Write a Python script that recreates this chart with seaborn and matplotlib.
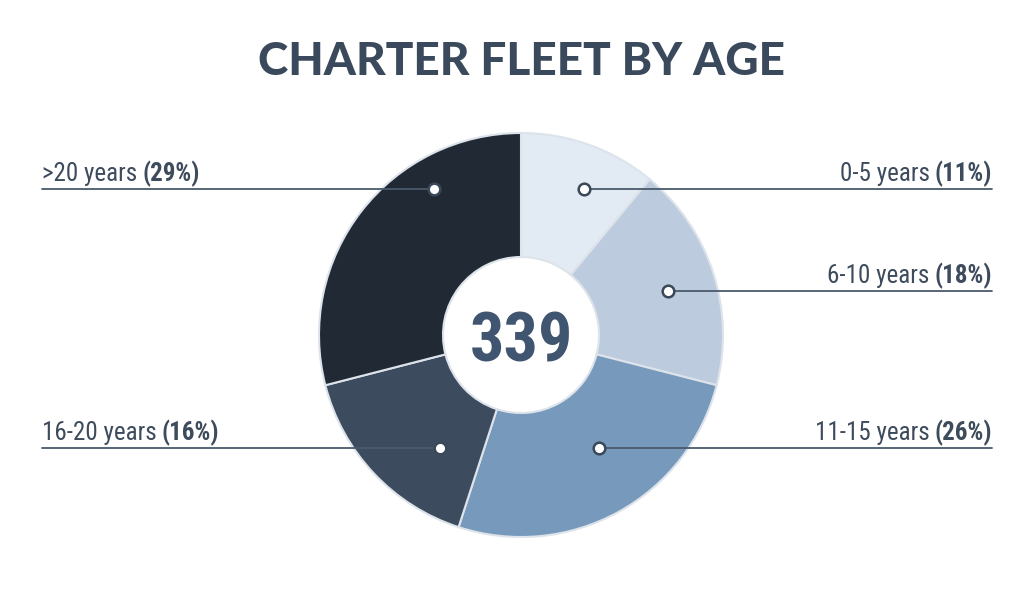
import matplotlib
matplotlib.use("Agg")
import matplotlib.pyplot as plt
import seaborn as sns

# --- DATA ---
age_groups = ['0-5 years', '6-10 years', '11-15 years', '16-20 years', '>20 years']
share_pct = [11, 18, 26, 16, 29]
fleet_total = 339
chart_title = 'CHARTER FLEET BY AGE'

# --- STYLE / LAYOUT (pixels, y measured from top) ---
W, H = 1024, 592
slice_colors = sns.color_palette(['#e2eaf3', '#bccbdd', '#7699bc', '#3d4b5e', '#212a34'])
text_col = '#3d4b5c'
line_col = '#4a5a6b'
title_col = '#3a4a5c'
center_col = '#3f5570'
cx, cy, r_out, r_in = 521, 335, 202, 78

label_side = ['right', 'right', 'right', 'left', 'left']
label_row = [189, 291, 448, 448, 189]
dot_x = [584, 668, 599, 440, 434]
left_edge, right_edge = 42, 992

sns.set_style('white')
plt.rcParams['font.family'] = ['Roboto Condensed', 'Liberation Sans Narrow', 'Roboto', 'DejaVu Sans']


def py(y):
    return H - y


fig = plt.figure(figsize=(W / 100, H / 100), dpi=100)
ax = fig.add_axes([0, 0, 1, 1])

ax.pie(share_pct, colors=slice_colors, startangle=90, counterclock=False,
       center=(cx, py(cy)), radius=r_out,
       wedgeprops=dict(width=r_out - r_in, edgecolor='#dde3ea', linewidth=1.5))
ax.set_xlim(0, W)
ax.set_ylim(0, H)
ax.set_aspect('equal')
ax.axis('off')

# title and total in the hole
ax.text(cx, py(75), chart_title, ha='center', va='baseline', fontsize=33,
        fontweight='black', color=title_col, family=['Lato', 'DejaVu Sans'])
ax.text(cx, py(362), str(fleet_total), ha='center', va='baseline', fontsize=49,
        fontweight='bold', color=center_col)

# leader lines, dots and labels
fs = 18
fig.canvas.draw()
renderer = fig.canvas.get_renderer()
for name, pct, side, row, dx in zip(age_groups, share_pct, label_side, label_row, dot_x):
    y = py(row)
    base = y + 8
    if side == 'right':
        ax.plot([dx, right_edge], [y, y], color=line_col, lw=1.3, zorder=3)
        b = ax.text(right_edge, base, f'({pct}%)', ha='right', va='baseline',
                    fontsize=fs, fontweight='bold', color=text_col)
        wb = b.get_window_extent(renderer).width
        ax.text(right_edge - wb - 5, base, name, ha='right', va='baseline',
                fontsize=fs, color=text_col)
    else:
        ax.plot([left_edge, dx], [y, y], color=line_col, lw=1.3, zorder=3)
        t = ax.text(left_edge, base, name, ha='left', va='baseline',
                    fontsize=fs, color=text_col)
        wt = t.get_window_extent(renderer).width
        ax.text(left_edge + wt + 5, base, f'({pct}%)', ha='left', va='baseline',
                fontsize=fs, fontweight='bold', color=text_col)
    ax.scatter([dx], [y], s=70, facecolor='white', edgecolor='#3a4859',
               linewidths=1.8, zorder=4)

fig.savefig('out.png', dpi=100)
